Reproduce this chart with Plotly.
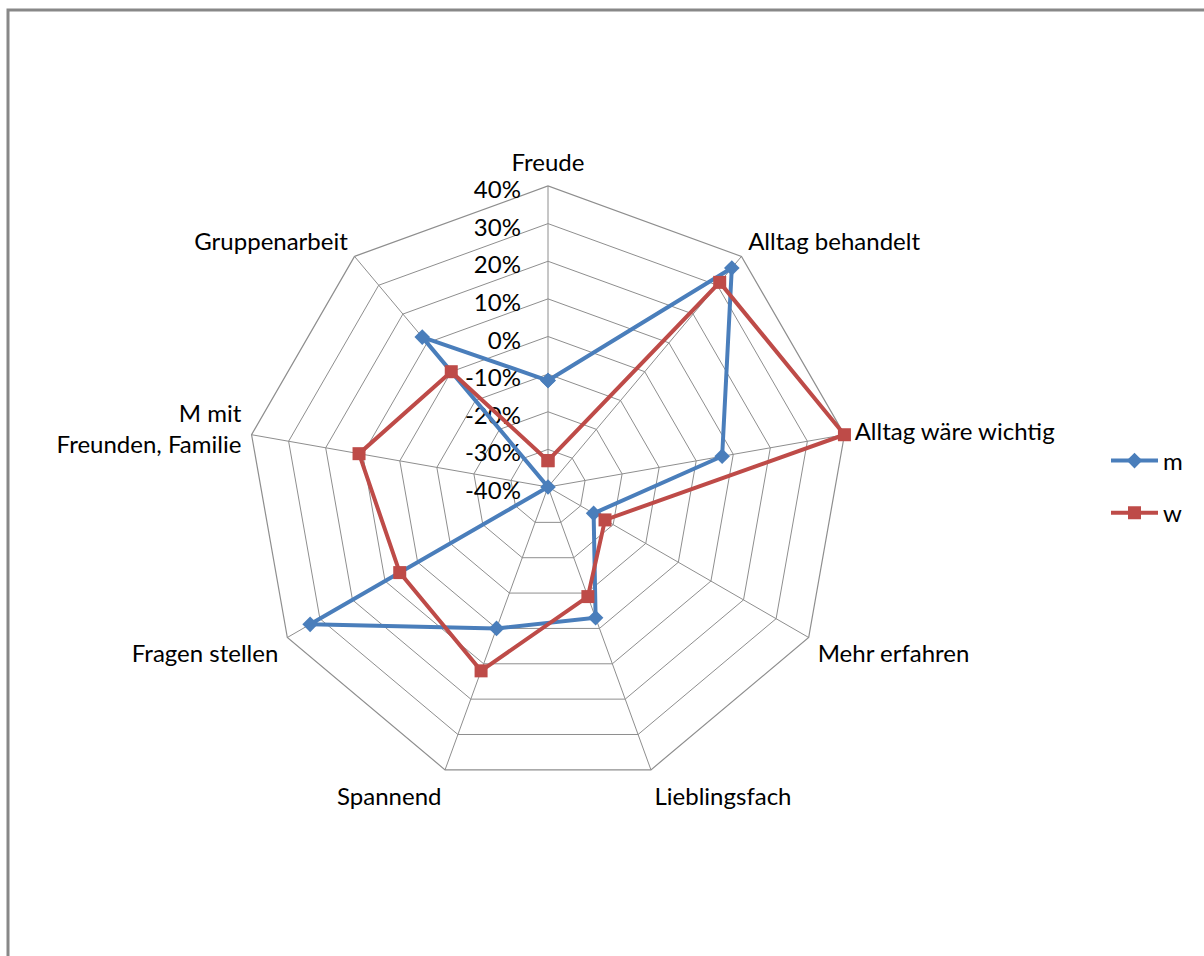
import plotly.graph_objects as go

categories = ["Freude", "Alltag behandelt", "Alltag wäre wichtig", "Mehr erfahren",
              "Lieblingsfach", "Spannend", "Fragen stellen", "M mit<br>Freunden, Familie",
              "Gruppenarbeit"]
m_values = [-0.117, 0.36, 0.07, -0.26, -0.03, 0.00, 0.33, -0.40, 0.12]
w_values = [-0.33, 0.31, 0.40, -0.225, -0.09, 0.12, 0.055, 0.11, 0.00]
tick_vals = [-0.4, -0.3, -0.2, -0.1, 0.0, 0.1, 0.2, 0.3, 0.4]
tick_text = ["-40%", "-30%", "-20%", "-10%", "0%", "10%", "20%", "30%", "40%"]

FONT = "Lato"
FS = 24
W, H = 1204, 956
cx, cy, R = 548, 487, 301
GRID = "#8e8e8e"
RANGE = [-0.4, 0.4]

series = [
    ("m", m_values, "#4A7EBB", "diamond", 12),
    ("w", w_values, "#BE4B48", "square", 13),
]

fig = go.Figure()
# the polygon grid subplot needs a trace to be drawn: an invisible copy of the data
fig.add_trace(go.Scatterpolar(
    r=w_values, theta=categories, subplot="polar",
    mode="lines", opacity=0, showlegend=False, hoverinfo="skip",
))
for name, vals, color, sym, size in series:
    fig.add_trace(go.Scatterpolar(
        r=vals + [vals[0]], theta=categories + [categories[0]],
        subplot="polar2", legendgroup=name,
        mode="lines+markers", name=name, cliponaxis=False,
        line=dict(color=color, width=4),
        marker=dict(symbol=sym, size=size, color=color),
    ))

domain = dict(x=[(cx - R) / W, (cx + R) / W], y=[(H - cy - R) / H, (H - cy + R) / H])

fig.update_layout(
    width=W, height=H,
    margin=dict(l=0, r=0, t=0, b=0),
    paper_bgcolor="white",
    font=dict(family=FONT, size=FS, color="#000000"),
    # grid, category labels and percentage ticks
    polar=dict(
        domain=domain,
        gridshape="linear",
        bgcolor="white",
        angularaxis=dict(
            type="category", categoryorder="array", categoryarray=categories,
            rotation=90, direction="clockwise",
            showline=True, linecolor=GRID, linewidth=1.2,
            gridcolor=GRID, gridwidth=1.2,
            ticks="outside", ticklen=5, tickcolor="rgba(0,0,0,0)",
            tickfont=dict(family=FONT, size=FS, color="#000"),
        ),
        radialaxis=dict(
            range=RANGE, angle=90, side="counterclockwise",
            tickvals=tick_vals, ticktext=tick_text,
            showline=False, gridcolor=GRID, gridwidth=1.2,
            ticks="outside", ticklen=5, tickcolor="rgba(0,0,0,0)",
            tickfont=dict(family=FONT, size=FS, color="#000"),
        ),
    ),
    # same scales, transparent, carries the data series
    polar2=dict(
        domain=domain,
        gridshape="circular",
        bgcolor="rgba(0,0,0,0)",
        angularaxis=dict(
            type="category", categoryorder="array", categoryarray=categories,
            rotation=90, direction="clockwise",
            showline=False, showgrid=False, showticklabels=False, ticks="",
        ),
        radialaxis=dict(
            range=RANGE, angle=90,
            showline=False, showgrid=False, showticklabels=False, ticks="",
        ),
    ),
    legend=dict(
        x=1106 / W, y=(H - 487) / H, xanchor="left", yanchor="middle",
        font=dict(family=FONT, size=FS, color="#000"),
        tracegroupgap=18, itemwidth=47, traceorder="grouped",
        bgcolor="rgba(0,0,0,0)",
    ),
    showlegend=True,
    shapes=[dict(type="rect", xref="paper", yref="paper",
                 x0=8 / W, x1=1.01, y0=-0.01, y1=(H - 10) / H,
                 line=dict(color="#888888", width=3), fillcolor="rgba(0,0,0,0)",
                 layer="below")],
)

fig.write_html("out.html")
